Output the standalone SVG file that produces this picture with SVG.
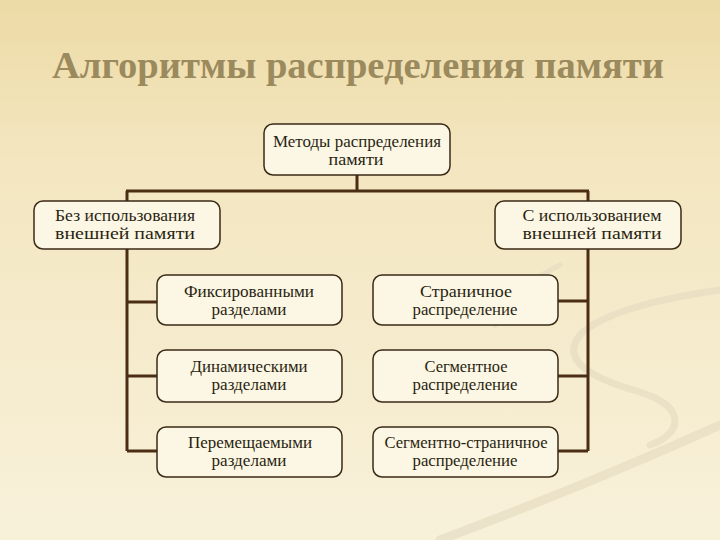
<svg xmlns="http://www.w3.org/2000/svg" width="720" height="540" viewBox="0 0 720 540">
<defs>
<linearGradient id="bg" x1="0" y1="0" x2="0" y2="1">
<stop offset="0" stop-color="#EDDBA6"/>
<stop offset="0.3" stop-color="#F3E6C0"/>
<stop offset="1" stop-color="#F8F1DA"/>
</linearGradient>
<style>
.node rect{fill:#FCF7E4;stroke:#3B2A16;stroke-width:1.5}
.node text{font-family:'Liberation Serif',serif;font-size:16px;fill:#2A1F12;text-anchor:middle}
.conn{fill:none;stroke:#4A2D12;stroke-width:3}
.sw{fill:none;stroke:#E6DDC2;stroke-linecap:round}
</style>
</defs>
<rect width="720" height="540" fill="url(#bg)"/>
<g id="decor" opacity="0.7">
<path class="sw" stroke-width="9" d="M440 540 C 520 510 620 470 720 425"/>
<path class="sw" stroke-width="7" d="M720 290 C 650 300 600 315 580 335 C 560 360 590 378 640 392 C 690 408 680 435 650 445"/>
<path class="sw" stroke-width="5" d="M560 265 C 530 280 505 300 495 325"/>
</g>
<text x="358" y="78" font-family="'Liberation Serif', serif" font-size="37" font-weight="bold" fill="#9A8A5E" text-anchor="middle" textLength="612" lengthAdjust="spacingAndGlyphs">Алгоритмы распределения памяти</text>
<g id="connectors">
<path class="conn" d="M357 175 V191 M126 191 H589 M127 191 V201 M588 191 V201"/>
<path class="conn" d="M127 249 V451 M127 302 H157 M127 376 H157 M127 451 H157"/>
<path class="conn" d="M588 249 V451 M588 301 H558 M588 376 H558 M588 451 H558"/>
</g>
<g id="n-root" class="node">
<rect x="264" y="124" width="186" height="51" rx="9"/>
<text x="357" y="147" textLength="168" lengthAdjust="spacingAndGlyphs">Методы распределения</text>
<text x="356" y="165" textLength="55" lengthAdjust="spacingAndGlyphs">памяти</text>
</g>
<g id="n-without" class="node">
<rect x="34" y="201" width="186" height="48" rx="9"/>
<text x="125" y="221" textLength="140" lengthAdjust="spacingAndGlyphs">Без использования</text>
<text x="125" y="239" textLength="140" lengthAdjust="spacingAndGlyphs">внешней памяти</text>
</g>
<g id="n-with" class="node">
<rect x="495" y="201" width="186" height="48" rx="9"/>
<text x="592" y="221" textLength="139" lengthAdjust="spacingAndGlyphs">С использованием</text>
<text x="592" y="239" textLength="139" lengthAdjust="spacingAndGlyphs">внешней памяти</text>
</g>
<g id="n-fixed" class="node">
<rect x="157" y="275" width="185" height="50" rx="9"/>
<text x="249" y="297" textLength="130" lengthAdjust="spacingAndGlyphs">Фиксированными</text>
<text x="249" y="315" textLength="75" lengthAdjust="spacingAndGlyphs">разделами</text>
</g>
<g id="n-dynamic" class="node">
<rect x="157" y="350" width="185" height="52" rx="9"/>
<text x="249" y="372" textLength="117" lengthAdjust="spacingAndGlyphs">Динамическими</text>
<text x="249" y="390" textLength="75" lengthAdjust="spacingAndGlyphs">разделами</text>
</g>
<g id="n-reloc" class="node">
<rect x="157" y="427" width="185" height="50" rx="9"/>
<text x="250" y="448" textLength="124" lengthAdjust="spacingAndGlyphs">Перемещаемыми</text>
<text x="249" y="466" textLength="75" lengthAdjust="spacingAndGlyphs">разделами</text>
</g>
<g id="n-page" class="node">
<rect x="373" y="275" width="185" height="50" rx="9"/>
<text x="466" y="297" textLength="92" lengthAdjust="spacingAndGlyphs">Страничное</text>
<text x="465" y="315" textLength="105" lengthAdjust="spacingAndGlyphs">распределение</text>
</g>
<g id="n-seg" class="node">
<rect x="373" y="350" width="185" height="52" rx="9"/>
<text x="466" y="372" textLength="83" lengthAdjust="spacingAndGlyphs">Сегментное</text>
<text x="465" y="390" textLength="105" lengthAdjust="spacingAndGlyphs">распределение</text>
</g>
<g id="n-segpage" class="node">
<rect x="373" y="427" width="185" height="50" rx="9"/>
<text x="466" y="448" textLength="163" lengthAdjust="spacingAndGlyphs">Сегментно-страничное</text>
<text x="465" y="466" textLength="105" lengthAdjust="spacingAndGlyphs">распределение</text>
</g>
</svg>
